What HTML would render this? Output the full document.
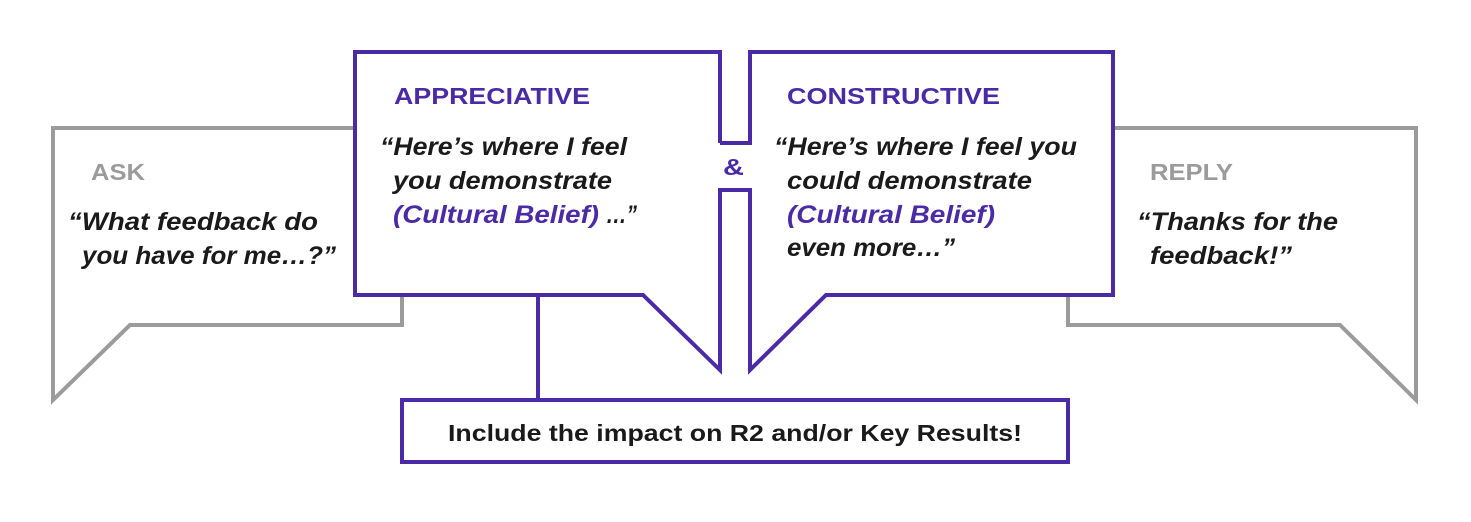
<!DOCTYPE html>
<html><head><meta charset="utf-8"><style>
body{margin:0;background:#fff;}
svg text{font-family:"Liberation Sans",sans-serif;}
</style></head><body>
<svg width="1471" height="517" xmlns="http://www.w3.org/2000/svg">
<g fill="none" stroke-width="4" stroke-linejoin="miter">
<polyline stroke="#9b9b9b" points="355,128 53,128 53,400 130,325 402,325 402,295"/>
<polyline stroke="#9b9b9b" points="1113,128 1416,128 1416,400 1340,325 1068,325 1068,295"/>
<polyline stroke="#4b2aa6" points="720,143 720,52 355,52 355,295 643,295 720,370 720,190 750,190 750,370 826,295 1113,295 1113,52 750,52 750,143 720,143"/>
<line stroke="#4b2aa6" x1="538" y1="295" x2="538" y2="400"/>
<rect stroke="#4b2aa6" x="402" y="400" width="666" height="62"/>
</g>
<g font-weight="bold" font-size="23" lengthAdjust="spacingAndGlyphs">
<text x="91" y="180" fill="#9b9b9b" textLength="54" lengthAdjust="spacingAndGlyphs">ASK</text>
<text x="1150" y="180" fill="#9b9b9b" textLength="83" lengthAdjust="spacingAndGlyphs">REPLY</text>
<text x="394" y="104" fill="#4b2aa6" textLength="196" lengthAdjust="spacingAndGlyphs">APPRECIATIVE</text>
<text x="787" y="104" fill="#4b2aa6" textLength="213" lengthAdjust="spacingAndGlyphs">CONSTRUCTIVE</text>
<text x="723" y="175" fill="#4b2aa6" font-size="23" textLength="21" lengthAdjust="spacingAndGlyphs">&amp;</text>
</g>
<g font-weight="bold" font-style="italic" font-size="25" fill="#1a1a1a">
<text x="68" y="230" textLength="250" lengthAdjust="spacingAndGlyphs">“What feedback do</text>
<text x="82" y="264" textLength="254" lengthAdjust="spacingAndGlyphs">you have for me…?”</text>
<text x="380" y="155" textLength="247" lengthAdjust="spacingAndGlyphs">“Here’s where I feel</text>
<text x="393" y="189" textLength="219" lengthAdjust="spacingAndGlyphs">you demonstrate</text>
<text x="393" y="223" fill="#4b2aa6" textLength="206" lengthAdjust="spacingAndGlyphs">(Cultural Belief)</text>
<text x="606" y="223" textLength="31" lengthAdjust="spacingAndGlyphs">…”</text>
<text x="774" y="155" textLength="303" lengthAdjust="spacingAndGlyphs">“Here’s where I feel you</text>
<text x="787" y="189" textLength="245" lengthAdjust="spacingAndGlyphs">could demonstrate</text>
<text x="787" y="223" fill="#4b2aa6" textLength="208" lengthAdjust="spacingAndGlyphs">(Cultural Belief)</text>
<text x="787" y="256" textLength="168" lengthAdjust="spacingAndGlyphs">even more…”</text>
<text x="1137" y="230" textLength="201" lengthAdjust="spacingAndGlyphs">“Thanks for the</text>
<text x="1150" y="264" textLength="142" lengthAdjust="spacingAndGlyphs">feedback!”</text>
</g>
<text x="448" y="441" font-weight="bold" font-size="23" fill="#1a1a1a" textLength="574" lengthAdjust="spacingAndGlyphs">Include the impact on R2 and/or Key Results!</text>
</svg>
</body></html>
